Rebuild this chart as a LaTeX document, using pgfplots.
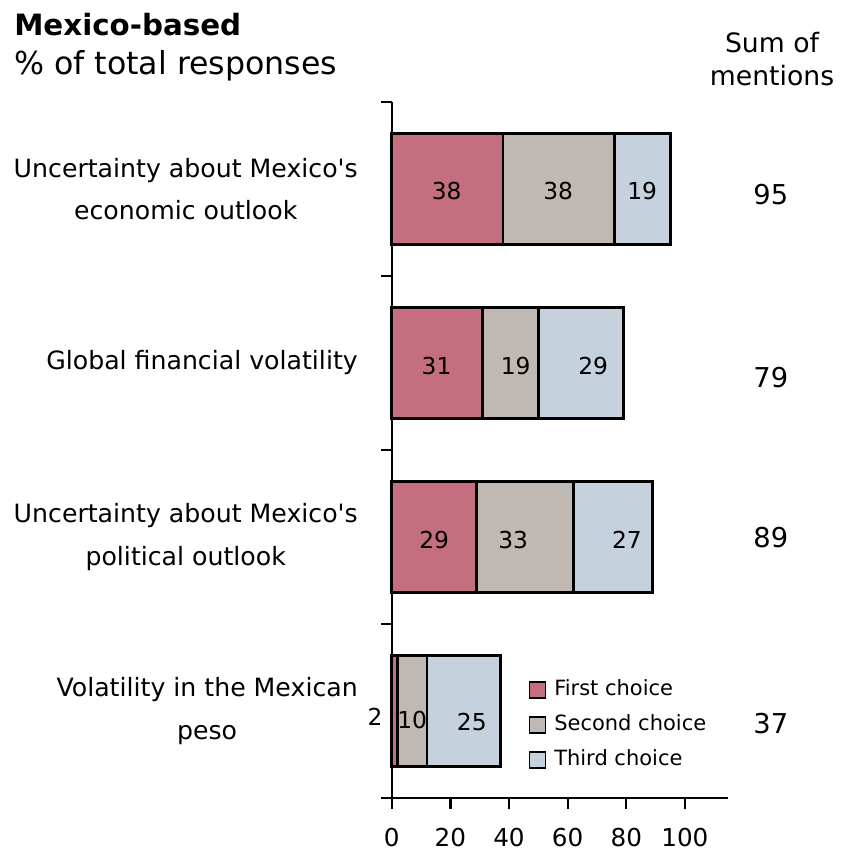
\documentclass[border=0pt]{standalone}
\usepackage{fontspec}
\setmainfont{DejaVu Sans}[Ligatures=TeXOff]
\usepackage{pgfplots}
\pgfplotsset{compat=1.18}
\definecolor{firstc}{HTML}{C46E80}
\definecolor{secondc}{HTML}{C0B8B2}
\definecolor{thirdc}{HTML}{C5D2DE}
\newcommand\catfont{\fontsize{18.9}{32}\selectfont}
\newcommand\valfont{\fontsize{17.5}{20}\selectfont}
\newcommand\sumfont{\fontsize{20.5}{24}\selectfont}
\begin{document}
\begin{tikzpicture}
% bars
\begin{axis}[
  at={(0pt,0pt)}, anchor=south west,
  scale only axis, width=252.2pt, height=522pt,
  xbar stacked, bar width=83.25pt,
  xmin=0, xmax=114.7, ymin=-0.5, ymax=3.5,
  axis x line=bottom, axis y line=left,
  axis line style={-, line width=1.7pt},
  xtick={0,20,...,100},
  ytick={-0.5,0.5,1.5,2.5,3.5}, yticklabels={},
  tick align=outside, major tick length=8pt,
  every tick/.style={black, line width=1.7pt},
  /pgf/number format/assume math mode=true,
  xticklabel style={font=\fontsize{18.5}{22}\selectfont, yshift=-11pt},
  clip=false,
  legend cell align=left,
  legend image code/.code={\draw[#1, line width=1.3pt] (0pt,-6pt) rectangle (12pt,6pt);},
  legend style={at={(axis cs:45.2,0.203)}, anchor=north west, draw=none, fill=none,
    font=\fontsize{15.75}{18}\selectfont, row sep=9.25pt,
    nodes={inner sep=1pt, text height=11.5pt, text depth=3.5pt},
    /tikz/every odd column/.append style={column sep=5pt}},
]
\addplot[fill=firstc, draw=black, line width=2pt] coordinates {(38,3) (31,2) (29,1) (2,0)};
\addplot[fill=secondc, draw=black, line width=2pt] coordinates {(38,3) (19,2) (33,1) (10,0)};
\addplot[fill=thirdc, draw=black, line width=2pt] coordinates {(19,3) (29,2) (27,1) (25,0)};
\legend{First choice, Second choice, Third choice}
\end{axis}
% labels
\begin{axis}[
  at={(0pt,0pt)}, anchor=south west,
  scale only axis, width=252.2pt, height=522pt,
  xmin=0, xmax=114.7, ymin=-0.5, ymax=3.5,
  axis line style={draw=none}, xtick=\empty,
  ytick={0,1,2,3},
  yticklabels={{Volatility in the Mexican\\peso}, {Uncertainty about Mexico's\\political outlook}, {Global financial volatility}, {Uncertainty about Mexico's\\economic outlook}},
  yticklabel style={align=center, font=\catfont, inner sep=0pt, xshift=-25.3pt},
  ytick style={draw=none},
  clip=false,
]
\addplot[draw=none, nodes near coords, point meta=explicit symbolic,
  nodes near coords style={anchor=center, font=\valfont}]
  coordinates {(18.75,2.989)[38] (56.8,2.989)[38] (85.4,2.989)[19]
               (15.3,1.983)[31] (42.3,1.983)[19] (68.7,1.983)[29]
               (14.5,0.983)[29] (41.4,0.983)[33] (80.2,0.983)[27]
               (-5.7,-0.034)[2] (7.0,-0.052)[10] (27.3,-0.063)[25]};
\addplot[draw=none, nodes near coords, point meta=explicit symbolic,
  nodes near coords style={anchor=center, font=\sumfont}]
  coordinates {(129.3,2.966)[95] (129.3,1.914)[79] (129.3,0.994)[89] (129.3,-0.075)[37]};
\end{axis}
\node[anchor=base west, inner sep=0pt, font=\bfseries\fontsize{22}{26}\selectfont] at (-283.3pt,571.5pt) {Mexico-based};
\node[anchor=base west, inner sep=0pt, font=\fontsize{23.7}{28}\selectfont] at (-283.3pt,542.25pt) {\% of total responses};
\node[anchor=base, inner sep=0pt, font=\fontsize{20}{24}\selectfont] at (285.2pt,558.75pt) {Sum of};
\node[anchor=base, inner sep=0pt, font=\fontsize{20}{24}\selectfont] at (285.2pt,534pt) {mentions};
\pgfresetboundingbox
\path[use as bounding box] (-293.8pt,-40.5pt) rectangle (336.2pt,598.5pt);
\end{tikzpicture}
\end{document}
